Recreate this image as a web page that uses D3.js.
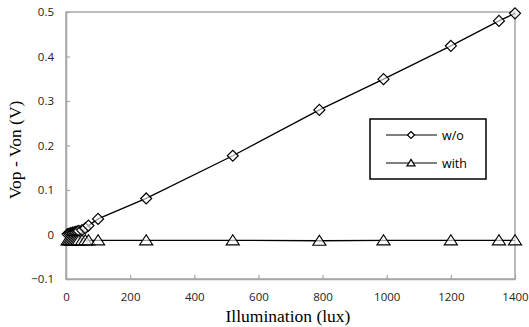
<!DOCTYPE html>
<html>
<head>
<meta charset="utf-8">
<script src="https://cdn.jsdelivr.net/npm/d3@7"></script>
<style>
	body { margin: 0; background: #fff; }
	svg { display: block; }
</style>
</head>
<body>
<svg id="chart" width="529" height="327"></svg>
<script>
// illumination levels (lux), shared by both series
const lux = [5, 10, 15, 20, 25, 30, 35, 40, 50, 60, 70, 100, 250, 520, 790, 990, 1200, 1350, 1400];
const woValues = [0.001, 0.002, 0.003, 0.004, 0.005, 0.006, 0.007, 0.008, 0.010, 0.014, 0.020, 0.035, 0.081, 0.177, 0.280, 0.349, 0.424, 0.480, 0.497];
const withValues = [-0.013, -0.013, -0.013, -0.013, -0.013, -0.013, -0.013, -0.013, -0.013, -0.013, -0.013, -0.013, -0.013, -0.013, -0.014, -0.013, -0.013, -0.013, -0.013];
const xTicks = [0, 200, 400, 600, 800, 1000, 1200, 1400];
const yTicks = [-0.1, 0, 0.1, 0.2, 0.3, 0.4, 0.5];
const seriesNames = ['w/o', 'with'];

let svg = d3.select('#chart'),
	margin = {top: 12, right: 14, bottom: 48, left: 66},
	width = +svg.attr('width') - margin.left - margin.right,
	height = +svg.attr('height') - margin.top - margin.bottom,
	g = svg.append('g').attr('transform', `translate(${margin.left}, ${margin.top})`);

let x = d3.scaleLinear().domain([0, 1400]).range([0, width]),
	y = d3.scaleLinear().domain([-0.1, 0.5]).range([height, 0]);

const tickFont = '"Open Sans", "Liberation Sans", sans-serif';
const frameColor = '#a6a6a6';

// frame
g.append('rect')
	.attr('width', width)
	.attr('height', height)
	.attr('fill', 'none')
	.attr('stroke', frameColor)
	.attr('stroke-width', 1.5);

let xAxis = g.append('g')
	.attr('transform', `translate(0, ${height})`)
	.call(d3.axisBottom(x).tickValues(xTicks).tickSizeInner(-4).tickSizeOuter(0).tickPadding(14)
		.tickFormat(d3.format('d')));
let yAxis = g.append('g')
	.call(d3.axisLeft(y).tickValues(yTicks).tickSizeInner(-4).tickSizeOuter(0).tickPadding(12)
		.tickFormat(d => d3.format('')(+d.toFixed(1))));

[xAxis, yAxis].forEach(ax => {
	ax.select('.domain').attr('stroke', frameColor).attr('stroke-width', 1.5);
	ax.selectAll('.tick line').attr('stroke', frameColor).attr('stroke-width', 1.2);
	ax.selectAll('.tick text')
		.attr('fill', '#222')
		.attr('font-family', tickFont)
		.attr('font-size', 11.5);
});

// axis titles
svg.append('text')
	.attr('x', 288)
	.attr('y', 322)
	.attr('text-anchor', 'middle')
	.attr('font-family', '"Liberation Serif", serif')
	.attr('font-size', 17.5)
	.text('Illumination (lux)');

svg.append('text')
	.attr('transform', `translate(21, 150) rotate(-90)`)
	.attr('text-anchor', 'middle')
	.attr('font-family', '"Liberation Serif", serif')
	.attr('font-size', 17.5)
	.text('Vop - Von (V)');

let line = d3.line()
	.x(d => x(d.x))
	.y(d => y(d.y));

const woData = lux.map((v, i) => ({x: v, y: woValues[i]}));
const withData = lux.map((v, i) => ({x: v, y: withValues[i]}));

const diamond = s => `M0,${-s}L${s},0L0,${s}L${-s},0Z`;
const triangle = (w, h) => `M0,${-h * 0.55}L${w / 2},${h * 0.45}L${-w / 2},${h * 0.45}Z`;

[[woData, diamond(5.5)], [withData, triangle(13, 10)]].forEach(([data, shape]) => {
	g.append('path')
		.datum(data)
		.attr('fill', 'none')
		.attr('stroke', '#000')
		.attr('stroke-width', 1.3)
		.attr('d', line);

	g.selectAll(null)
		.data(data)
		.enter()
		.append('path')
		.attr('transform', d => `translate(${x(d.x)}, ${y(d.y)})`)
		.attr('d', shape)
		.attr('fill', '#fff')
		.attr('fill-opacity', 0.6)
		.attr('stroke', '#000')
		.attr('stroke-width', 1.2);
});

// legend
let legend = svg.append('g').attr('transform', 'translate(370, 119)');
legend.append('rect')
	.attr('width', 116)
	.attr('height', 60)
	.attr('fill', '#fff')
	.attr('stroke', '#000')
	.attr('stroke-width', 1.5);

const legendShapes = [diamond(3.5), triangle(8, 6.5)];
seriesNames.forEach((name, i) => {
	let row = legend.append('g').attr('transform', `translate(0, ${16 + i * 28})`);
	row.append('line')
		.attr('x1', 16).attr('x2', 67)
		.attr('stroke', '#000')
		.attr('stroke-width', 1.2);
	row.append('path')
		.attr('transform', 'translate(41, 0)')
		.attr('d', legendShapes[i])
		.attr('fill', '#fff')
		.attr('stroke', '#000')
		.attr('stroke-width', 1.2);
	row.append('text')
		.attr('x', 72)
		.attr('y', 4.5)
		.attr('font-family', tickFont)
		.attr('font-size', 12.5)
		.text(name);
});
</script>
</body>
</html>
